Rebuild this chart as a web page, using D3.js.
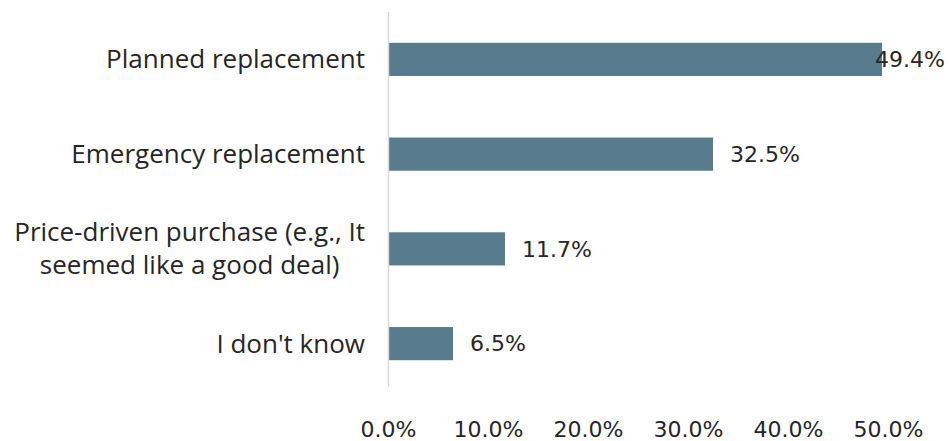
<!DOCTYPE html>
<html>
<head>
<meta charset="utf-8">
<script src="https://cdn.jsdelivr.net/npm/d3@7"></script>
<style>
  html, body { margin: 0; padding: 0; background: #fff; }
  svg { display: block; }
  .cat { font-family: "Open Sans", sans-serif; font-size: 26px; fill: #262626; }
  .num { font-family: "DejaVu Sans", sans-serif; font-size: 22px; fill: #262626; }
</style>
</head>
<body>
<svg id="chart" width="949" height="441"></svg>
<script>
// Reason for the purchase, share of respondents
const categories = [
  ["Planned replacement"],
  ["Emergency replacement"],
  ["Price-driven purchase (e.g., It", "seemed like a good deal)"],
  ["I don't know"]
];
const values = [49.4, 32.5, 11.7, 6.5];
const tickValues = [0, 10, 20, 30, 40, 50];

const W = 949, H = 441;
const plot = { left: 388, right: 888, top: 12, bottom: 391 };
const barColor = "#587b8e";

const svg = d3.select("#chart");

const x = d3.scaleLinear().domain([0, 50]).range([plot.left, plot.right]);
const y = d3.scaleBand()
  .domain(d3.range(categories.length))
  .range([plot.top, plot.bottom])
  .paddingInner(0.65)
  .paddingOuter(0.325);

// bars
svg.append("g").selectAll("rect")
  .data(values)
  .join("rect")
  .attr("x", x(0))
  .attr("y", (d, i) => y(i))
  .attr("width", d => x(d) - x(0))
  .attr("height", y.bandwidth())
  .attr("fill", barColor);

// vertical category axis line
svg.append("line")
  .attr("x1", x(0) + 0.5).attr("x2", x(0) + 0.5)
  .attr("y1", plot.top).attr("y2", plot.bottom - 4)
  .attr("stroke", "#d9d9d9").attr("stroke-width", 1.5);

// category labels: wrapped lines centred on each other, block right-aligned
const catG = svg.append("g");
categories.forEach((lines, i) => {
  const cy = y(i) + y.bandwidth() / 2;
  const lh = 33;
  const g = catG.append("g");
  const texts = lines.map((s, k) => g.append("text")
    .attr("class", "cat")
    .attr("y", cy + (k - (lines.length - 1) / 2) * lh)
    .attr("dy", "0.35em")
    .text(s));
  const widths = texts.map(t => t.node().getComputedTextLength());
  const maxW = d3.max(widths);
  const rightEdge = 365;
  const center = rightEdge - maxW / 2;
  texts.forEach(t => t.attr("x", center).attr("text-anchor", "middle"));
});

// value labels, kept inside the drawing area
svg.append("g").selectAll("text")
  .data(values)
  .join("text")
  .attr("class", "num")
  .attr("y", (d, i) => y(i) + y.bandwidth() / 2)
  .attr("dy", "0.35em")
  .text(d => d.toFixed(1) + "%")
  .each(function (d) {
    const w = this.getComputedTextLength();
    d3.select(this).attr("x", Math.min(x(d) + 17, W - 4 - w));
  });

// value axis tick labels (no axis line)
const axis = d3.axisBottom(x)
  .tickValues(tickValues)
  .tickSize(0)
  .tickPadding(0)
  .tickFormat(d => d.toFixed(1) + "%");
const axG = svg.append("g")
  .attr("transform", `translate(0, 421)`)
  .call(axis);
axG.select(".domain").remove();
axG.selectAll("text")
  .attr("class", "num")
  .attr("font-family", null)
  .attr("font-size", null)
  .attr("fill", null)
  .attr("dy", "0.35em")
  .attr("y", 8);
</script>
</body>
</html>
